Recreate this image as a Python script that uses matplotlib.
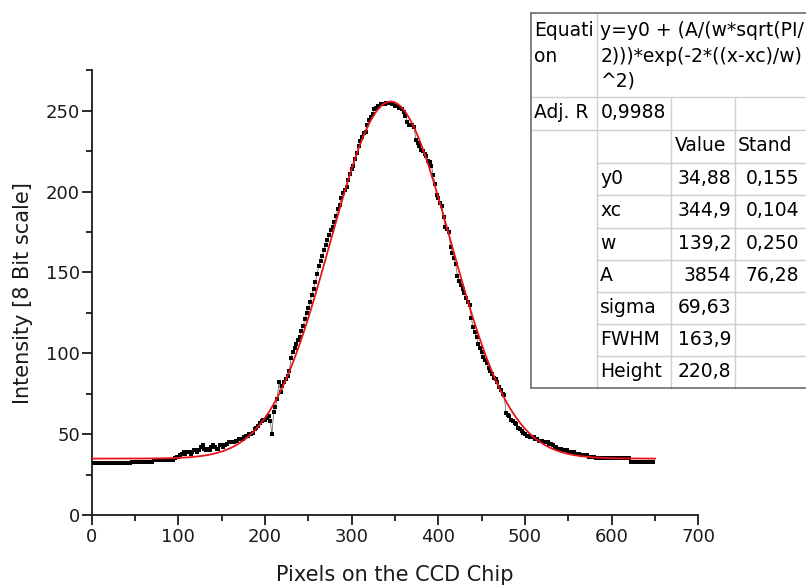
import numpy as np
import matplotlib
matplotlib.use("Agg")
import matplotlib.pyplot as plt
from matplotlib.patches import Rectangle

plt.rcParams['font.family'] = ['DejaVu Sans']

# Line profile across the CCD chip (8 bit intensity), one value every 2 pixels
intensity = [
    32, 32, 32, 32, 32, 32, 32, 32, 32, 32,
    32, 32, 32, 32, 32, 32, 32, 32, 32, 32,
    32, 32, 32, 33, 33, 33, 33, 33, 33, 33,
    33, 33, 33, 33, 33, 33, 34, 34, 34, 34,
    34, 34, 34, 34, 34, 34, 34, 34, 35, 36,
    36, 37, 38, 39, 38, 39, 39, 38, 39, 40,
    40, 39, 40, 42, 43, 41, 40, 41, 40, 42,
    43, 42, 41, 41, 43, 43, 42, 43, 44, 45,
    45, 45, 45, 46, 46, 47, 47, 47, 48, 49,
    49, 50, 50, 51, 53, 54, 55, 57, 58, 59,
    59, 60, 61, 58, 50, 64, 67, 72, 82, 76,
    80, 82, 84, 86, 89, 97, 101, 103, 106, 108,
    110, 114, 117, 121, 125, 128, 132, 136, 140, 144,
    149, 154, 157, 160, 164, 167, 170, 173, 176, 178,
    181, 185, 189, 192, 196, 199, 201, 203, 207, 211,
    214, 216, 220, 224, 228, 231, 234, 236, 237, 241,
    244, 246, 248, 251, 252, 253, 253, 254, 254, 254,
    255, 255, 255, 254, 254, 253, 253, 252, 252, 251,
    249, 247, 243, 241, 241, 241, 240, 232, 230, 228,
    226, 225, 223, 222, 219, 218, 216, 210, 205, 198,
    196, 193, 191, 184, 178, 177, 175, 166, 162, 159,
    155, 148, 145, 142, 140, 137, 134, 132, 130, 122,
    116, 113, 110, 106, 103, 101, 98, 96, 94, 91,
    89, 87, 85, 84, 82, 79, 77, 75, 74, 63,
    62, 61, 59, 58, 57, 56, 54, 53, 52, 51,
    50, 49, 49, 48, 48, 48, 47, 47, 46, 46,
    46, 45, 45, 45, 44, 44, 43, 42, 42, 41,
    41, 41, 40, 40, 40, 39, 39, 39, 39, 38,
    38, 38, 37, 37, 37, 37, 37, 36, 36, 36,
    36, 35, 35, 35, 35, 35, 35, 35, 35, 35,
    35, 35, 35, 35, 35, 35, 35, 35, 35, 35,
    35, 33, 33, 33, 33, 33, 33, 33, 33, 33,
    33, 33, 33, 33, 33,
]
pixel = np.arange(0, 2 * len(intensity), 2)

# Gauss fit parameters
fit_y0 = 34.88
fit_xc = 344.9
fit_w = 139.2
fit_A = 3854
fit_height = 220.8

x_ticks = [0, 100, 200, 300, 400, 500, 600, 700]
y_ticks = [0, 50, 100, 150, 200, 250]

# Fit results table: (parameter, value, standard error)
table_rows = [
    ("y0", "34,88", "0,155"),
    ("xc", "344,9", "0,104"),
    ("w", "139,2", "0,250"),
    ("A", "3854", "76,28"),
    ("sigma", "69,63", ""),
    ("FWHM", "163,9", ""),
    ("Height", "220,8", ""),
]
equation_lines = ["y=y0 + (A/(w*sqrt(PI/", "2)))*exp(-2*((x-xc)/w)", "^2)"]
adj_r = "0,9988"

W, H = 806, 588
fig = plt.figure(figsize=(W / 100, H / 100), dpi=100)
fig.patch.set_facecolor("white")

x0_px, x1_px = 91.7, 698.4
y0_px = 515.0
ymax = 275
px_per_unit = 1.617
top_px = y0_px - ymax * px_per_unit
ax = fig.add_axes([x0_px / W, (H - y0_px) / H, (x1_px - x0_px) / W,
                   (y0_px - top_px) / H])

fit_x = np.linspace(0, 650, 800)
fit_curve = fit_y0 + fit_height * np.exp(-2 * ((fit_x - fit_xc) / fit_w) ** 2)

ax.plot(pixel, intensity, color="#555555", lw=0.5, zorder=2)
ax.plot(pixel, intensity, ls="none", marker="s", ms=2.3, mfc="black",
        mec="black", mew=0, zorder=3)
ax.plot(fit_x, fit_curve, color="#e8141b", lw=1.3, zorder=4)

ax.set_xlim(0, 700)
ax.set_ylim(0, ymax)
ax.set_xticks(x_ticks)
ax.set_yticks(y_ticks)
ax.set_xticks(np.arange(50, 700, 100), minor=True)
ax.set_yticks(np.arange(25, 276, 50), minor=True)
for s in ("top", "right"):
    ax.spines[s].set_visible(False)
for s in ("left", "bottom"):
    ax.spines[s].set_linewidth(1.3)
    ax.spines[s].set_color("#1a1a1a")
ax.tick_params(which="major", direction="out", length=7, width=1.3,
               labelsize=13, colors="#1a1a1a")
ax.tick_params(axis="y", which="major", pad=1.5)
ax.tick_params(axis="x", which="major", pad=2)
ax.tick_params(which="minor", direction="out", length=4, width=1.3,
               colors="#1a1a1a")
ax.set_xlabel("Pixels on the CCD Chip", fontsize=15, color="#1a1a1a",
              labelpad=14)
ax.set_ylabel("Intensity [8 Bit scale]", fontsize=15, color="#1a1a1a",
              labelpad=9)

# Fit result table drawn in pixel coordinates on top of the plot
tab = fig.add_axes([0, 0, 1, 1])
tab.set_xlim(0, W)
tab.set_ylim(H, 0)
tab.axis("off")
tab.patch.set_alpha(0)

L, R = 530.7, 810
c1, c2, c3 = 597.3, 670.7, 735.0
top, r1, r2, r3 = 12.7, 96.7, 130.0, 163.3
row_h = (388.3 - r3) / len(table_rows)
bottom = 388.3

tab.add_patch(Rectangle((L, top), R - L, bottom - top, facecolor="white",
                        edgecolor="none", zorder=1))
inner = dict(color="#cfcfcf", lw=1.0, zorder=2)
outer = dict(color="#6e6e6e", lw=1.2, zorder=3)
tab.plot([c1, c1], [top, bottom], **inner)
tab.plot([c2, c2], [r1, bottom], **inner)
tab.plot([c3, c3], [r1, bottom], **inner)
tab.plot([L, R], [r1, r1], **inner)
tab.plot([L, R], [r2, r2], **inner)
tab.plot([c1, R], [r3, r3], **inner)
for i in range(1, len(table_rows)):
    y = r3 + i * row_h
    tab.plot([c1, R], [y, y], **inner)
tab.plot([L, L], [top, bottom], **outer)
tab.plot([L, R], [top, top], **outer)
tab.plot([L, R], [bottom, bottom], **outer)

fs = 13.5
txt = dict(fontsize=fs, color="black", va="baseline", zorder=4)
tab.text(L + 3, 36.5, "Equati", ha="left", **txt)
tab.text(L + 3, 61.5, "on", ha="left", **txt)
for k, line in enumerate(equation_lines):
    tab.text(c1 + 3, 36.5 + 25 * k, line, ha="left", **txt)
tab.text(L + 3, r1 + 21, "Adj. R", ha="left", **txt)
tab.text(c1 + 3, r1 + 21, adj_r, ha="left", **txt)
tab.text(c2 + 4, r2 + 21, "Value", ha="left", **txt)
tab.text(c3 + 3, r2 + 21, "Stand", ha="left", **txt)
for i, (name, val, err) in enumerate(table_rows):
    yb = r3 + i * row_h + 21
    tab.text(c1 + 3, yb, name, ha="left", **txt)
    tab.text(c3 - 4, yb, val, ha="right", **txt)
    if err:
        tab.text(799, yb, err, ha="right", **txt)

fig.savefig("out.png", dpi=100, facecolor="white")
